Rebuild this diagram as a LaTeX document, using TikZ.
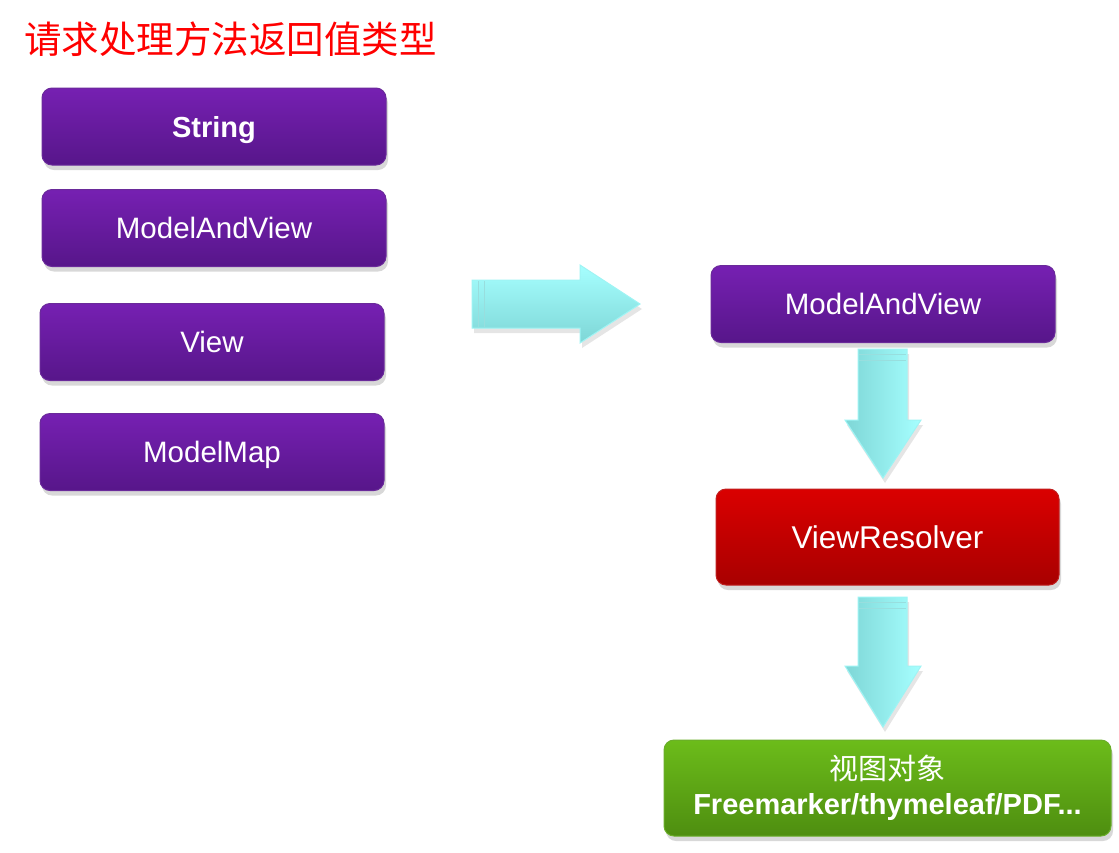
\documentclass[tikz,border=0pt]{standalone}
\usepackage{fontspec}
\setmainfont{Liberation Sans}
\newfontfamily\cjk{Noto Sans CJK SC}
\usetikzlibrary{shadows}
\definecolor{purpT}{HTML}{7620B2}
\definecolor{purpB}{HTML}{57168A}
\definecolor{purpD}{HTML}{6A2A9A}
\definecolor{redT}{HTML}{DA0000}
\definecolor{redB}{HTML}{A80000}
\definecolor{redD}{HTML}{C02020}
\definecolor{grnT}{HTML}{6CBC1A}
\definecolor{grnB}{HTML}{4E8E10}
\definecolor{grnD}{HTML}{6AAE2A}
\definecolor{cyL}{HTML}{A6FFFF}
\definecolor{cyD}{HTML}{7ED6D6}
\definecolor{cyE}{HTML}{9EF4F4}
\tikzset{
  box/.style={rounded corners=10pt, minimum width=344pt, minimum height=77pt, inner sep=0pt,
    text=white, font=\fontsize{29.5}{34}\selectfont, line width=1pt,
    text height=22pt, text depth=1pt,
    drop shadow={opacity=0.3, shadow xshift=2pt, shadow yshift=-5pt}},
  purplebox/.style={box, draw=purpD, top color=purpT, bottom color=purpB},
  redbox/.style={box, draw=redD, top color=redT, bottom color=redB, minimum width=343pt, minimum height=96pt,
    font=\fontsize{31.5}{36}\selectfont, text height=23pt},
  greenbox/.style={box, draw=grnD, top color=grnT, bottom color=grnB, minimum width=447pt, minimum height=96pt, align=center,
    text height=, text depth=},
  blockarrow/.style={draw=cyE, line width=1pt, drop shadow={opacity=0.2, shadow xshift=2pt, shadow yshift=-5pt}},
  stripe/.style={draw=cyD!80!white, line width=0.8pt},
  title/.style={text=red, font=\cjk\fontsize{37.5}{42}\selectfont, anchor=west, inner sep=0pt}
}
\begin{document}
\begin{tikzpicture}[x=1pt,y=-1pt]
\useasboundingbox[fill=white] (0,0) rectangle (1119,852);
\node[title] (title) at (24,39) {请求处理方法返回值类型};
\node[purplebox, font=\fontsize{29}{34}\selectfont\bfseries] (string) at (214,126.5) {String};
\node[purplebox] (mav) at (214,228) {ModelAndView};
\node[purplebox] (view) at (212,342) {View};
\node[purplebox] (mmap) at (212,452) {ModelMap};
\node[purplebox] (rmav) at (883,304) {ModelAndView};
\node[redbox] (vr) at (887.5,537) {ViewResolver};
\node[greenbox] (obj) at (887.5,788) {{\cjk\fontsize{29}{34}\selectfont 视图对象}\\[1pt]{\fontsize{29}{34}\selectfont\bfseries Freemarker/thymeleaf/PDF...}};
% right block arrow
\path[blockarrow, top color=cyL, bottom color=cyD]
  (472,280) -- (580,280) -- (580,265) -- (640,304) -- (580,343) -- (580,328) -- (472,328) -- cycle;
\draw[stripe] (478,281) -- (478,327) (484,281) -- (484,327);
% down arrows
\path[blockarrow, left color=cyD, right color=cyL]
  (858,349) -- (907,349) -- (907,420) -- (921,420) -- (883,478) -- (845,420) -- (858,420) -- cycle;
\draw[stripe] (859,354) -- (906,354) (859,360) -- (906,360);
\path[blockarrow, left color=cyD, right color=cyL]
  (858,597) -- (907,597) -- (907,666) -- (921,666) -- (883,727) -- (845,666) -- (858,666) -- cycle;
\draw[stripe] (859,602) -- (906,602) (859,608) -- (906,608);
\end{tikzpicture}
\end{document}
